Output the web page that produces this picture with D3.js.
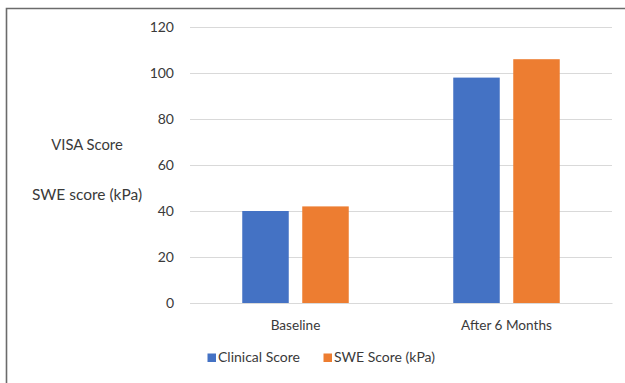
<!DOCTYPE html>
<html><head><meta charset="utf-8">
<script src="https://cdn.jsdelivr.net/npm/d3@7"></script>
<style>body{margin:0;background:#fff}svg{display:block}text{font-family:Lato,"Open Sans",sans-serif;fill:#3a3a3a}</style>
</head><body><svg id="c" width="625" height="383"></svg>
<script>
const categories = ["Baseline", "After 6 Months"];
const seriesNames = ["Clinical Score", "SWE Score (kPa)"];
const clinicalScore = [40, 98];
const sweScore = [42, 106];
const yTicks = [0, 20, 40, 60, 80, 100, 120];
const colors = ["#4472C4", "#ED7D31"];

const svg = d3.select("#c");
svg.append("rect").attr("width",625).attr("height",383).attr("fill","#fff");
svg.append("path").attr("d","M6.5,383 V8.5 H625").attr("fill","none").attr("stroke","#6b6b6b").attr("stroke-width",1.6);

const x0 = d3.scaleBand().domain(categories).range([190, 612]);
const barW = 46.5, gap = 13.5;
const y = d3.scaleLinear().domain([0, 120]).range([303, 27]);
const font = "Lato,'Open Sans',sans-serif";

const gy = svg.append("g").attr("transform","translate(190,0)")
  .call(d3.axisLeft(y).tickValues(yTicks).tickSize(-422).tickPadding(16));
gy.select(".domain").remove();
gy.selectAll(".tick line").attr("stroke","#d9d9d9").attr("stroke-width",1);
gy.selectAll(".tick text").attr("font-size",14).attr("fill","#3a3a3a").style("font-family",font);

categories.forEach((c,i)=>{
  const cx = x0(c) + x0.bandwidth()/2;
  [clinicalScore[i], sweScore[i]].forEach((v,j)=>{
    const left = j===0 ? cx - gap/2 - barW : cx + gap/2;
    svg.append("rect").attr("x",left).attr("width",barW)
      .attr("y",y(v)).attr("height",y(0)-y(v)).attr("fill",colors[j]);
  });
});

const gx = svg.append("g").attr("transform","translate(0,303)")
  .call(d3.axisBottom(x0).tickSize(0).tickPadding(17));
gx.select(".domain").attr("stroke","#d9d9d9");
gx.selectAll(".tick text").attr("font-size",13.6).attr("fill","#3a3a3a").style("font-family",font);

svg.append("text").attr("x",87).attr("y",150).attr("text-anchor","middle").attr("font-size",14.8).text("VISA Score");
svg.append("text").attr("x",87).attr("y",200).attr("text-anchor","middle").attr("font-size",15.5).text("SWE score (kPa)");

const leg = [{n:seriesNames[0],x:207.5},{n:seriesNames[1],x:323.5}];
leg.forEach((l,i)=>{
  svg.append("rect").attr("x",l.x).attr("y",353.5).attr("width",8.5).attr("height",8.5).attr("fill",colors[i]);
  svg.append("text").attr("x",l.x+10.5).attr("y",362).attr("font-size",14).text(l.n);
});
</script></body></html>
